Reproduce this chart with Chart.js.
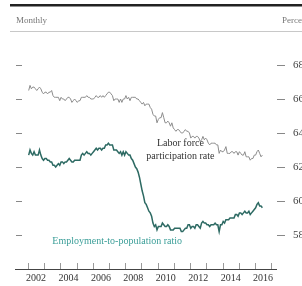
<!DOCTYPE html>
<html>
<head>
<meta charset="utf-8">
<script src="https://cdn.jsdelivr.net/npm/chart.js@4.4.1/dist/chart.umd.min.js"></script>
<style>
  html, body { margin: 0; padding: 0; background: #fff; overflow: hidden; }
  #wrap { width: 302px; height: 286px; overflow: hidden; position: relative; }
  canvas { position: absolute; left: 0; top: 0; }
</style>
</head>
<body>
<div id="wrap"><canvas id="chart" width="320" height="286"></canvas></div>
<script>
const startYear = 2002;
const yearLabels = [2002, 2004, 2006, 2008, 2010, 2012, 2014, 2016];
const yTicks = [58, 60, 62, 64, 66, 68];

// Labor force participation rate, monthly from Jan 2002
const lfpr = [
  66.5, 66.8, 66.6, 66.7, 66.7, 66.6, 66.5, 66.6, 66.7, 66.6, 66.4, 66.3,
  66.4, 66.4, 66.3, 66.4, 66.4, 66.5, 66.2, 66.1, 66.1, 66.1, 66.1, 65.9,
  66.1, 66.0, 66.0, 65.9, 66.0, 66.1, 66.1, 66.0, 65.8, 65.9, 66.0, 65.9,
  65.8, 65.9, 65.9, 66.1, 66.1, 66.1, 66.1, 66.2, 66.1, 66.1, 66.0, 66.0,
  66.0, 66.1, 66.2, 66.1, 66.1, 66.2, 66.1, 66.2, 66.1, 66.2, 66.3, 66.4,
  66.4, 66.3, 66.2, 65.9, 66.0, 66.0, 66.0, 65.8, 66.0, 65.8, 66.0, 66.0,
  66.2, 66.0, 66.1, 65.9, 66.1, 66.1, 66.1, 66.1, 66.0, 66.0, 65.9, 65.8,
  65.7, 65.8, 65.6, 65.7, 65.7, 65.7, 65.5, 65.4, 65.1, 65.0, 65.0, 64.6,
  64.8, 64.9, 64.9, 65.2, 64.9, 64.6, 64.6, 64.7, 64.6, 64.4, 64.6, 64.3,
  64.2, 64.1, 64.2, 64.2, 64.1, 64.0, 64.0, 64.1, 64.2, 64.1, 64.1, 64.0,
  63.7, 63.8, 63.8, 63.7, 63.8, 63.8, 63.7, 63.5, 63.6, 63.8, 63.6, 63.7,
  63.6, 63.4, 63.3, 63.4, 63.4, 63.4, 63.4, 63.3, 63.3, 62.8, 63.0, 62.9,
  62.9, 63.0, 63.2, 62.8, 62.8, 62.8, 62.9, 62.9, 62.8, 62.9, 62.9, 62.7,
  62.9, 62.8, 62.7, 62.7, 62.9, 62.6, 62.6, 62.6, 62.4, 62.5, 62.5, 62.7,
  62.7, 62.9, 63.0, 62.8, 62.6, 62.7
];

// Employment-to-population ratio, monthly from Jan 2002
const epop = [
  62.7, 63.0, 62.8, 62.7, 62.9, 62.7, 62.7, 62.7, 63.0, 62.7, 62.5, 62.4,
  62.5, 62.5, 62.4, 62.4, 62.3, 62.3, 62.1, 62.1, 62.0, 62.1, 62.2, 62.1,
  62.3, 62.3, 62.2, 62.3, 62.3, 62.4, 62.5, 62.4, 62.3, 62.3, 62.4, 62.4,
  62.4, 62.4, 62.4, 62.7, 62.8, 62.7, 62.8, 62.9, 62.8, 62.8, 62.7, 62.8,
  62.9, 63.0, 63.1, 63.0, 63.1, 63.1, 63.0, 63.1, 63.1, 63.3, 63.3, 63.4,
  63.3, 63.3, 63.3, 63.0, 63.0, 63.0, 62.9, 62.8, 62.9, 62.7, 62.9, 62.7,
  62.9, 62.8, 62.7, 62.7, 62.5, 62.4, 62.2, 62.0, 61.9, 61.7, 61.4, 61.0,
  60.6, 60.3, 59.9, 59.8, 59.6, 59.4, 59.3, 59.1, 58.7, 58.5, 58.6, 58.3,
  58.5, 58.5, 58.5, 58.7, 58.6, 58.5, 58.5, 58.6, 58.5, 58.3, 58.3, 58.3,
  58.4, 58.4, 58.4, 58.4, 58.4, 58.2, 58.2, 58.3, 58.4, 58.4, 58.6, 58.6,
  58.4, 58.5, 58.5, 58.4, 58.6, 58.6, 58.5, 58.4, 58.7, 58.8, 58.7, 58.7,
  58.6, 58.6, 58.5, 58.6, 58.6, 58.6, 58.7, 58.6, 58.6, 58.2, 58.6, 58.6,
  58.8, 58.7, 58.9, 58.9, 58.9, 59.0, 59.0, 59.0, 59.0, 59.2, 59.2, 59.1,
  59.3, 59.3, 59.2, 59.3, 59.4, 59.3, 59.3, 59.4, 59.2, 59.3, 59.4, 59.5,
  59.6, 59.8, 59.9, 59.7, 59.7, 59.6
];

const toPoints = arr => arr.map((v, i) => ({ x: startYear + (i + 0.5) / 12, y: v }));

const serif = '"Liberation Serif", "DejaVu Serif", serif';

// header, year tick marks, axis line and in-chart labels
const decorations = {
  id: "decorations",
  beforeDraw(chart) {
    const ctx = chart.ctx;
    ctx.save();
    ctx.fillStyle = "#222";
    ctx.fillRect(10, 4, 310, 2.5);
    ctx.strokeStyle = "#c8c8c8";
    ctx.lineWidth = 1;
    ctx.beginPath();
    ctx.moveTo(10, 31.5);
    ctx.lineTo(320, 31.5);
    ctx.stroke();
    ctx.fillStyle = "#777";
    ctx.font = "9px " + serif;
    ctx.textBaseline = "alphabetic";
    ctx.fillText("Monthly", 16, 23);
    ctx.fillText("Percent", 282, 23);
    ctx.restore();
  },
  afterDatasetsDraw(chart) {
    const ctx = chart.ctx;
    const xs = chart.scales.x;
    const ys = chart.scales.y;
    const bottom = chart.chartArea.bottom;
    ctx.save();
    ctx.strokeStyle = "#444";
    ctx.lineWidth = 1;
    ctx.beginPath();
    ctx.moveTo(15, bottom + 0.5);
    ctx.lineTo(chart.chartArea.right, bottom + 0.5);
    ctx.stroke();
    ctx.strokeStyle = "#999";
    for (let yr = startYear; yr <= 2017; yr++) {
      const px = Math.round(xs.getPixelForValue(yr)) + 0.5;
      ctx.beginPath();
      ctx.moveTo(px, bottom);
      ctx.lineTo(px, bottom - 6);
      ctx.stroke();
    }
    ctx.font = "10px " + serif;
    ctx.textAlign = "center";
    ctx.textBaseline = "middle";
    ctx.fillStyle = "#333";
    ctx.fillText("Labor force", xs.getPixelForValue(2011.4), ys.getPixelForValue(63.4));
    ctx.fillText("participation rate", xs.getPixelForValue(2011.4), ys.getPixelForValue(62.6));
    ctx.fillStyle = "#3a9e98";
    ctx.fillText("Employment-to-population ratio", xs.getPixelForValue(2007.5), ys.getPixelForValue(57.6));
    ctx.restore();
  }
};

new Chart(document.getElementById("chart"), {
  type: "line",
  data: {
    datasets: [
      {
        label: "Labor force participation rate",
        data: toPoints(lfpr),
        borderColor: "#8c8c8c",
        borderWidth: 1,
        pointRadius: 0,
        yAxisID: "y",
      },
      {
        label: "Employment-to-population ratio",
        data: toPoints(epop),
        borderColor: "#2d6a63",
        borderWidth: 1.5,
        pointRadius: 0,
        yAxisID: "y",
      },
    ],
  },
  options: {
    responsive: false,
    animation: false,
    layout: { padding: { top: 31, left: 0, right: 0, bottom: 0 } },
    plugins: { legend: { display: false }, tooltip: { enabled: false } },
    scales: {
      x: {
        type: "linear",
        min: 2001.63,
        max: 2017.36,
        afterBuildTicks: axis => { axis.ticks = yearLabels.map(v => ({ value: v + 0.5 })); },
        afterFit: axis => { axis.height = 17; },
        grid: { display: false, drawTicks: false },
        border: { display: false },
        ticks: {
          padding: 3,
          color: "#333",
          font: { family: serif, size: 10 },
          maxRotation: 0,
          autoSkip: false,
          callback: v => String(Math.floor(v)),
        },
      },
      y: {
        position: "left",
        min: 56,
        max: 70,
        afterBuildTicks: axis => { axis.ticks = yTicks.map(v => ({ value: v })); },
        afterFit: axis => { axis.width = 22; },
        grid: { drawOnChartArea: false, tickLength: 6, color: "#888" },
        border: { display: false },
        ticks: { display: false },
      },
      y2: {
        position: "right",
        min: 56,
        max: 70,
        afterBuildTicks: axis => { axis.ticks = yTicks.map(v => ({ value: v })); },
        afterFit: axis => { axis.width = 43; },
        grid: { drawOnChartArea: false, tickLength: 8, color: "#888" },
        border: { display: false },
        ticks: {
          padding: 8,
          color: "#444",
          font: { family: serif, size: 11 },
        },
      },
    },
  },
  plugins: [decorations],
});
</script>
</body>
</html>
